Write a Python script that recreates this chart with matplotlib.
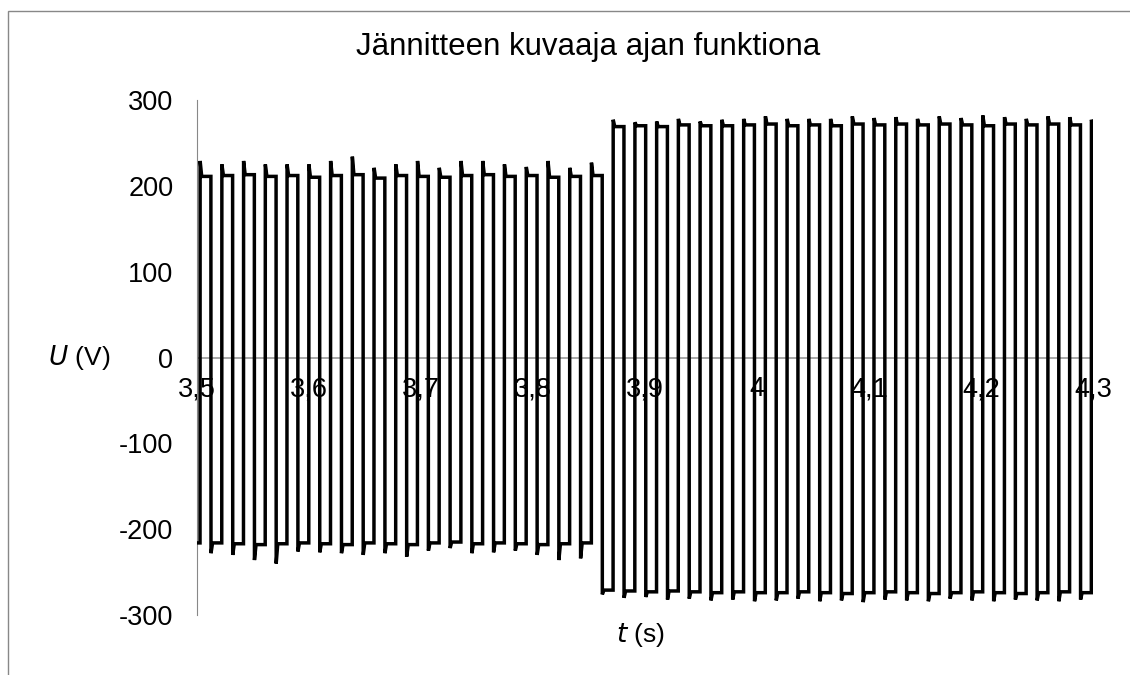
import matplotlib
matplotlib.use('Agg')
import matplotlib.pyplot as plt
from matplotlib.patches import Rectangle

plt.rcParams['font.family'] = ['Liberation Sans', 'DejaVu Sans']

# rising / falling edge times (s)
rise_t = [3.5027, 3.5221, 3.5415, 3.5609, 3.5803, 3.5998, 3.6192, 3.6386, 3.6580, 3.6774,
          3.6968, 3.7162, 3.7356, 3.7550, 3.7744, 3.7939, 3.8133, 3.8327, 3.8521, 3.8715,
          3.8909, 3.9103, 3.9297, 3.9491, 3.9685, 3.9880, 4.0074, 4.0268, 4.0462, 4.0656,
          4.0850, 4.1044, 4.1238, 4.1432, 4.1626, 4.1821, 4.2015, 4.2209, 4.2403, 4.2597,
          4.2791, 4.2985]
fall_t = [3.5124, 3.5318, 3.5512, 3.5706, 3.5900, 3.6095, 3.6289, 3.6483, 3.6677, 3.6871,
          3.7065, 3.7259, 3.7453, 3.7647, 3.7841, 3.8036, 3.8230, 3.8424, 3.8618, 3.8812,
          3.9006, 3.9200, 3.9394, 3.9588, 3.9782, 3.9977, 4.0171, 4.0365, 4.0559, 4.0753,
          4.0947, 4.1141, 4.1335, 4.1529, 4.1723, 4.1918, 4.2112, 4.2306, 4.2500, 4.2694,
          4.2888]

# positive half: overshoot peak and flat level (V)
pos_peak = [229, 225, 229, 225, 225, 225, 229, 234, 221, 225, 229, 221, 229, 229, 225, 222,
            229, 221, 227,
            277, 274, 275, 278, 275, 277, 278, 281, 278, 278, 278, 281, 279, 280, 278, 281,
            279, 282, 280, 278, 281, 280, 277]
pos_level = [211, 212, 213, 211, 212, 210, 212, 213, 209, 212, 211, 210, 212, 213, 211, 212,
             210, 211, 212,
             269, 270, 269, 271, 270, 270, 271, 272, 270, 271, 270, 272, 271, 272, 271, 272,
             271, 270, 272, 271, 272, 271, 270]

# negative half after each fall: spike and flat level (V)
neg_spike = [-228, -230, -236, -240, -226, -227, -228, -230, -228, -232, -225, -222, -228,
             -227, -225, -230, -236, -234,
             -276, -280, -279, -282, -281, -283, -282, -284, -283, -281, -284, -283, -285,
             -282, -283, -284, -281, -283, -284, -282, -283, -284, -282]
neg_level = [-216, -217, -218, -217, -216, -217, -218, -216, -217, -218, -216, -215, -217,
             -216, -217, -218, -217, -216,
             -271, -272, -273, -272, -273, -274, -273, -274, -274, -273, -274, -275, -274,
             -273, -274, -275, -274, -273, -274, -275, -274, -273, -274]
start_level = -216

x_ticks = [3.5, 3.6, 3.7, 3.8, 3.9, 4.0, 4.1, 4.2, 4.3]
x_labels = ['3,5', '3,6', '3,7', '3,8', '3,9', '4', '4,1', '4,2', '4,3']
y_ticks = [-300, -200, -100, 0, 100, 200, 300]

# assemble the trace
t = [3.5]
u = [start_level]
prev = start_level
for n, r in enumerate(rise_t):
    t += [r, r + 0.0001, r + 0.0015]
    u += [prev, pos_peak[n], pos_level[n]]
    if n < len(fall_t):
        f = fall_t[n]
        t += [f, f + 0.0001, f + 0.0015]
        u += [pos_level[n], neg_spike[n], neg_level[n]]
        prev = neg_level[n]
    else:
        t.append(4.31)
        u.append(pos_level[n])

fig = plt.figure(figsize=(11.3, 6.75), dpi=100)
fig.patches.append(Rectangle((8 / 1130, -0.1), 1.2, 1 - 11 / 675 + 0.1,
                             transform=fig.transFigure, fill=False,
                             edgecolor='#888888', linewidth=1.0))

ax = fig.add_axes([197 / 1130, 1 - 615 / 675, 896 / 1130, 515 / 675])
ax.plot(t, u, color='black', linewidth=2.5, solid_joinstyle='miter', zorder=3)
ax.set_xlim(3.5, 4.3)
ax.set_ylim(-300, 300)

for s in ['top', 'right', 'bottom']:
    ax.spines[s].set_visible(False)
ax.spines['left'].set_color('#888888')
ax.axhline(0, color='#999999', linewidth=1.2, zorder=1)

ax.set_yticks(y_ticks)
ax.set_yticklabels([str(v) for v in y_ticks], fontsize=19.5)
ax.tick_params(axis='y', length=0, pad=17)

# x labels sit just under the zero line, inside the plot
ax.set_xticks([])
for xv, lbl in zip(x_ticks, x_labels):
    ax.annotate(lbl, xy=(xv, 0), xytext=(0, -19), textcoords='offset pixels',
                ha='center', va='top', fontsize=19.5, zorder=2, annotation_clip=False)

fig.text(588 / 1130, 1 - 47 / 675, 'Jännitteen kuvaaja ajan funktiona',
         ha='center', va='center', fontsize=22.5)
fig.text(48 / 1130, 1 - 357 / 675, r'$\it{U}$ (V)', ha='left', va='center', fontsize=19)
fig.text(640 / 1130, 1 - 635 / 675, '$\\it{t}$ (s)', ha='center', va='center', fontsize=19)

plt.savefig('out.png', dpi=100)
